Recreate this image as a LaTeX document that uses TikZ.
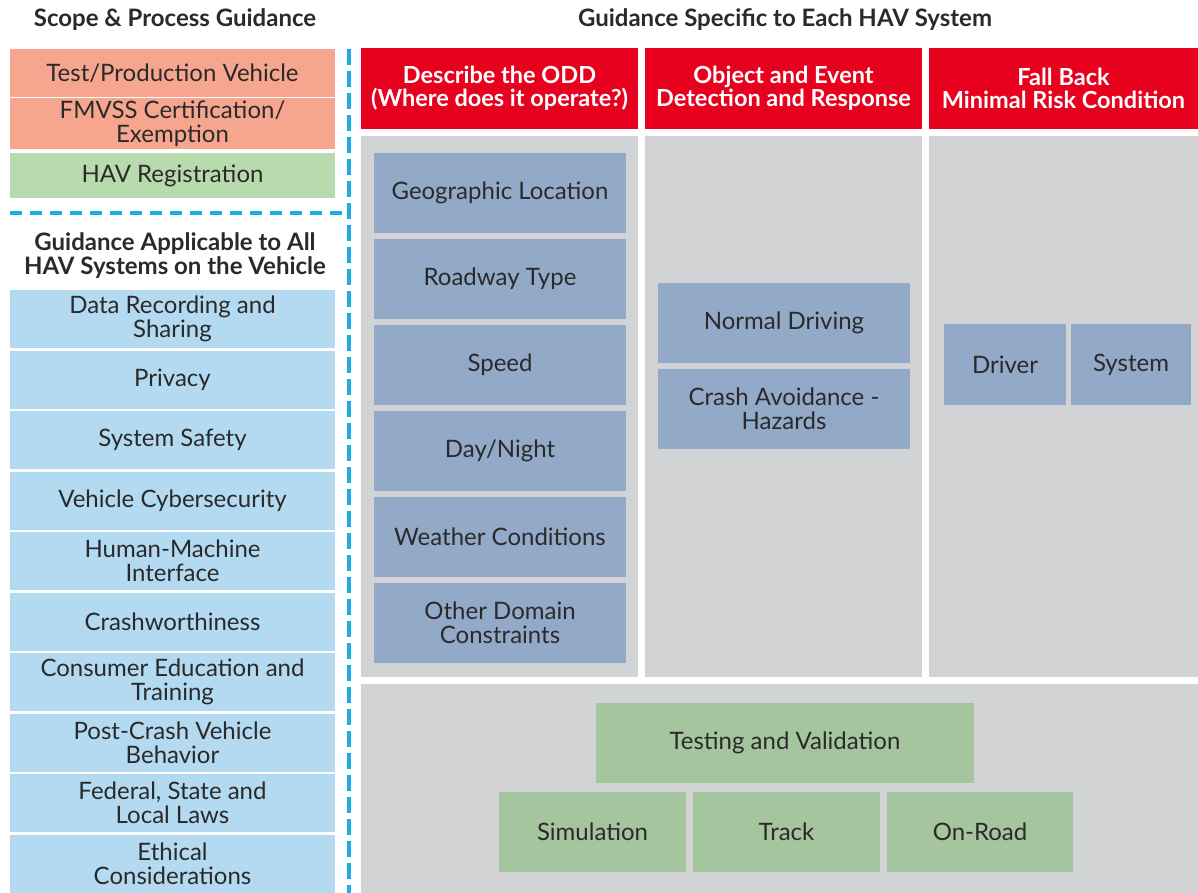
\documentclass[tikz,border=0pt]{standalone}
\usepackage{fontspec}
\setmainfont{Lato}
\usetikzlibrary{positioning}

\definecolor{salmon}{HTML}{F6A68E}
\definecolor{regreen}{HTML}{B8DBAE}
\definecolor{skyblue}{HTML}{B3DAF1}
\definecolor{dashcyan}{HTML}{1FAEE3}
\definecolor{hdrred}{HTML}{E8001F}
\definecolor{panelgray}{HTML}{D1D3D5}
\definecolor{slateblue}{HTML}{92A9C8}
\definecolor{testgreen}{HTML}{A4C59D}
\definecolor{inkgray}{HTML}{2B2A2B}

\tikzset{
  cell/.style={inner sep=0pt, outer sep=0pt, align=center, anchor=north west,
    text=inkgray, font=\fontsize{24}{24}\selectfont},
  title/.style={inner sep=0pt, align=center, text=inkgray,
    font=\bfseries\fontsize{24}{24}\selectfont},
  header/.style={cell, fill=hdrred, text=white, minimum height=81pt,
    font=\bfseries\fontsize{23.5}{23}\selectfont},
  panel/.style={cell, fill=panelgray, minimum height=541pt},
  odd/.style={cell, fill=slateblue, minimum width=252pt, minimum height=80pt},
  tv/.style={cell, fill=testgreen, minimum height=80pt},
  sepline/.style={dashcyan, line width=4.5pt}
}

\begin{document}
\begin{tikzpicture}[x=1pt, y=-1pt]
\useasboundingbox (0,0) rectangle (1198,893);
% Scope and process column
\node[title] (scope) at (175,20) {Scope \& Process Guidance};
\node[cell, fill=salmon, minimum width=325pt, minimum height=48pt] (testprod) at (10,49) {Test/Production Vehicle};
\node[cell, fill=salmon, minimum width=325pt, minimum height=51pt] (fmvss) at (10,98) {FMVSS Certification/\\Exemption};
\node[cell, fill=regreen, minimum width=325pt, minimum height=45pt] (register) at (10,153) {HAV Registration};
\draw[sepline, line width=4pt, dash pattern=on 12pt off 8pt] (10,213) -- (342,213);
% Guidance for all systems
\node[title] (allhav) at (175,256) {Guidance Applicable to All\\HAV Systems on the Vehicle};
\foreach \txt [count=\i from 0] in {{Data Recording and\\Sharing}, Privacy, System Safety,
    Vehicle Cybersecurity, {Human-Machine\\Interface}, Crashworthiness,
    {Consumer Education and\\Training}, {Post-Crash Vehicle\\Behavior},
    {Federal, State and\\Local Laws}, {Ethical\\Considerations}}
  \node[cell, fill=skyblue, minimum width=325pt, minimum height=58pt] (all\i) at (10,{290+60.5*\i}) {\txt};
\draw[sepline, dash pattern=on 16pt off 6pt] (349,49) -- (349,893);
% Specific guidance
\node[title] (specific) at (785,20) {Guidance Specific to Each HAV System};
\node[header, minimum width=277pt] (oddhead) at (361,48) {Describe the ODD\\(Where does it operate?)};
\node[header, minimum width=277pt] (oedrhead) at (645,48) {Object and Event\\Detection and Response};
\node[header, minimum width=269pt] (fallhead) at (929,48) {Fall Back\\Minimal Risk Condition};
\node[panel, minimum width=277pt] (oddpanel) at (361,136) {};
\node[panel, minimum width=277pt] (oedrpanel) at (645,136) {};
\node[panel, minimum width=269pt] (fallpanel) at (929,136) {};
\foreach \txt [count=\i from 0] in {Geographic Location, Roadway Type, Speed, Day/Night,
    Weather Conditions, {Other Domain\\Constraints}}
  \node[odd] (odd\i) at (374,{153+86*\i}) {\txt};
\node[odd] (normal) at (658,283) {Normal Driving};
\node[odd, below=6pt of normal] (crash) {Crash Avoidance -\\Hazards};
\node[odd, minimum width=122pt, minimum height=81pt] (driver) at (944,324) {Driver};
\node[odd, minimum width=120pt, minimum height=81pt, right=5pt of driver] (system) {System};
% Testing and validation
\node[cell, fill=panelgray, minimum width=837pt, minimum height=209pt] (testpanel) at (361,684) {};
\node[tv, minimum width=378pt] (testing) at (596,703) {Testing and Validation};
\node[tv, minimum width=187pt] (sim) at (499,792) {Simulation};
\node[tv, minimum width=187pt, right=7pt of sim] (track) {Track};
\node[tv, minimum width=186pt, right=7pt of track] (onroad) {On-Road};
\end{tikzpicture}
\end{document}
